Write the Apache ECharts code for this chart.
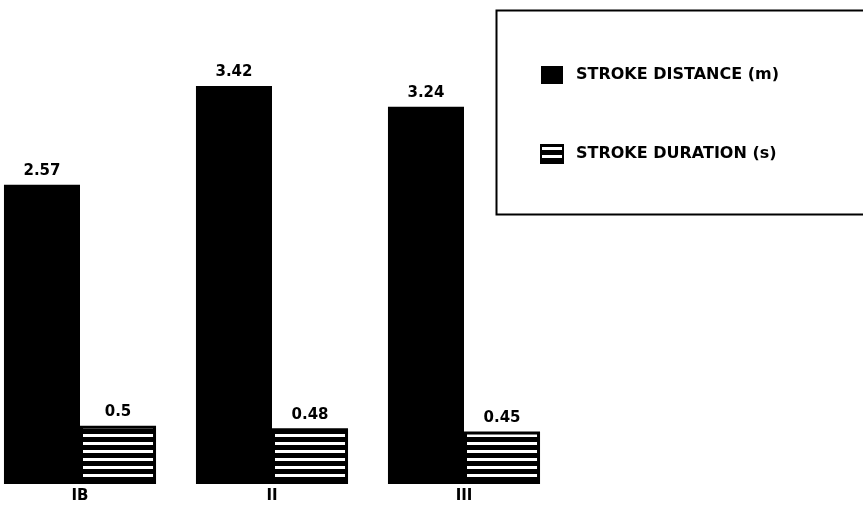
<!DOCTYPE html>
<html>
<head>
<meta charset="utf-8">
<script src="https://cdn.jsdelivr.net/npm/echarts@6/dist/echarts.min.js"></script>
<style>html,body{margin:0;padding:0;background:#fff;}#c{width:863px;height:515px;}</style>
</head>
<body>
<div id="c"></div>
<script>
const categories = ['IB', 'II', 'III'];
const strokeDistance = [2.57, 3.42, 3.24];
const strokeDuration = [0.5, 0.48, 0.45];
const seriesNames = ['STROKE DISTANCE (m)', 'STROKE DURATION (s)'];

function makeHatch() {
  const c = document.createElement('canvas');
  c.width = 8; c.height = 8;
  const g = c.getContext('2d');
  g.fillStyle = '#000'; g.fillRect(0, 0, 8, 8);
  g.fillStyle = '#fff'; g.fillRect(0, 2, 8, 3);
  return c;
}

const chart = echarts.init(document.getElementById('c'), null, {renderer: 'canvas'});
const labelStyle = {
  show: true, position: 'top', distance: 6,
  color: '#000', fontFamily: 'DejaVu Sans', fontWeight: 'bold', fontSize: 15
};
chart.setOption({
  animation: false,
  backgroundColor: '#fff',
  grid: {left: -16, width: 576, top: 18.4, bottom: 31, containLabel: false, outerBoundsMode: 'none'},
  xAxis: {
    type: 'category', data: categories,
    axisLine: {show: false}, axisTick: {show: false},
    axisLabel: {color: '#000', fontFamily: 'DejaVu Sans', fontWeight: 'bold', fontSize: 15, margin: 5}
  },
  yAxis: {type: 'value', min: 0, max: 4, show: false, splitLine: {show: false}},
  legend: {
    orient: 'vertical', left: 535, top: 61, itemWidth: 22, itemHeight: 18, itemGap: 60,
    icon: 'rect',
    textStyle: {color: '#000', fontFamily: 'DejaVu Sans', fontWeight: 'bold', fontSize: 16, padding: [0,0,0,8]},
    data: seriesNames
  },
  graphic: [{
    type: 'rect', left: 494, top: 8,
    shape: {width: 420, height: 204},
    style: {fill: 'none', stroke: '#000', lineWidth: 2}
  }],
  series: [
    {
      name: seriesNames[0], type: 'bar', data: strokeDistance,
      barGap: '0%', barCategoryGap: '20.8%',
      itemStyle: {color: '#000'},
      label: labelStyle
    },
    {
      name: seriesNames[1], type: 'bar', data: strokeDuration,
      itemStyle: {color: {image: makeHatch(), repeat: 'repeat'}, borderColor: '#000', borderWidth: 3},
      label: labelStyle
    }
  ]
});
</script>
</body>
</html>
